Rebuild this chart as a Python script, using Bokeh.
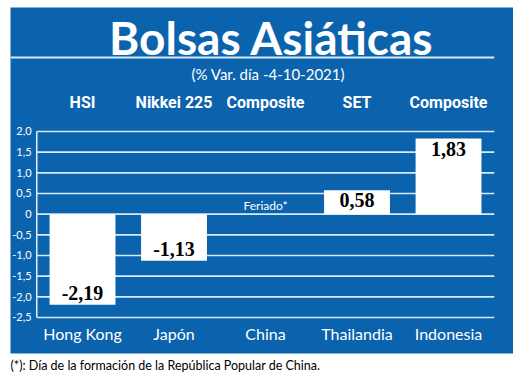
from bokeh.plotting import figure
from bokeh.models import ColumnDataSource, Range1d, Title
from bokeh.core.properties import value
from bokeh.embed import file_html
from bokeh.resources import INLINE

# ---- data ----
countries = ["Hong Kong", "Japón", "China", "Thailandia", "Indonesia"]
index_names = ["HSI", "Nikkei 225", "Composite", "SET", "Composite"]
changes = [-2.19, -1.13, None, 0.58, 1.83]
change_labels = ["-2,19", "-1,13", "", "0,58", "1,83"]
y_ticks = [2.0, 1.5, 1.0, 0.5, 0.0, -0.5, -1.0, -1.5, -2.0, -2.5]
y_tick_labels = ["2,0", "1,5", "1,0", "0,5", "0", "-0,5", "-1,0", "-1,5", "-2,0", "-2,5"]
title_text = "Bolsas Asiáticas"
subtitle_text = "(% Var. día -4-10-2021)"
holiday_text = "Feriado*"
holiday_index = 2
footnote_text = "(*): Día de la formación de la República Popular de China."

BLUE = "#0B63AE"
GRID = "#D8E8F5"

xs = list(range(len(countries)))
X0, X1 = -0.787, 4.71
Y0, Y1 = -3.371, 5.0

p = figure(frame_width=503, frame_height=346,
           x_range=Range1d(X0, X1), y_range=Range1d(Y0, Y1),
           x_axis_type=None, y_axis_type=None,
           output_backend="svg", toolbar_location=None,
           min_border_left=10, min_border_right=0, min_border_top=7, min_border_bottom=0,
           background_fill_color=BLUE, border_fill_color="white",
           outline_line_color=None)
p.grid.visible = False

# grid lines
p.segment(x0=[-0.5] * len(y_ticks), x1=[4.5] * len(y_ticks), y0=y_ticks, y1=y_ticks,
          line_color=GRID, line_width=1.6)
# y axis line
p.segment(x0=[-0.5], x1=[-0.5], y0=[min(y_ticks)], y1=[max(y_ticks)],
          line_color=GRID, line_width=1.6)
# tick labels
p.text(x=[-0.557] * len(y_ticks), y=y_ticks, text=y_tick_labels,
       text_color="white", text_font=value("Lato"), text_font_size="11px",
       text_align="right", text_baseline="middle")

# bars
bx = [x for x, v in zip(xs, changes) if v is not None]
bv = [v for v in changes if v is not None]
bl = [l for l, v in zip(change_labels, changes) if v is not None]
src = ColumnDataSource(dict(x=bx, top=bv, lab=bl,
                            off=[-12 if v < 0 else 10 for v in bv]))
p.vbar(x="x", top="top", bottom=0, width=0.72, source=src,
       fill_color="white", line_color=None)
p.text(x="x", y="top", text="lab", y_offset="off", source=src,
       text_color="black", text_font=value("Liberation Serif"), text_font_style="bold",
       text_font_size="20px", text_align="center", text_baseline="middle")

# holiday note
p.text(x=[holiday_index], y=[0.21], text=[holiday_text], text_color="white",
       text_font=value("Lato"), text_font_size="12px",
       text_align="center", text_baseline="middle")

# category labels (bottom) and index names (top)
p.text(x=xs, y=[-2.89] * len(xs), text=countries, text_color="white",
       text_font=value("Lato"), text_font_size="16px",
       text_align="center", text_baseline="middle")
p.text(x=xs, y=[2.71] * len(xs), text=index_names, text_color="white",
       text_font=value("Roboto"), text_font_style="bold",
       text_font_size="16px", text_align="center", text_baseline="middle")

# title, underline, subtitle
p.text(x=[2.066], y=[4.27], text=[title_text], text_color="white",
       text_font=value("Lato"), text_font_style="bold", text_font_size="46px",
       text_align="center", text_baseline="middle")
p.segment(x0=[X0], x1=[4.5], y0=[3.79], y1=[3.79], line_color=GRID, line_width=2)
p.text(x=[2.03], y=[3.38], text=[subtitle_text], text_color="white",
       text_font=value("Lato"), text_font_size="15px",
       text_align="center", text_baseline="middle")

# footnote
p.add_layout(Title(text=footnote_text, align="left", text_font="Lato",
                   text_font_size="12.5px", text_font_style="normal",
                   text_color="black", standoff=4, offset=0), "below")

open("out.html", "w").write(file_html(p, INLINE))
